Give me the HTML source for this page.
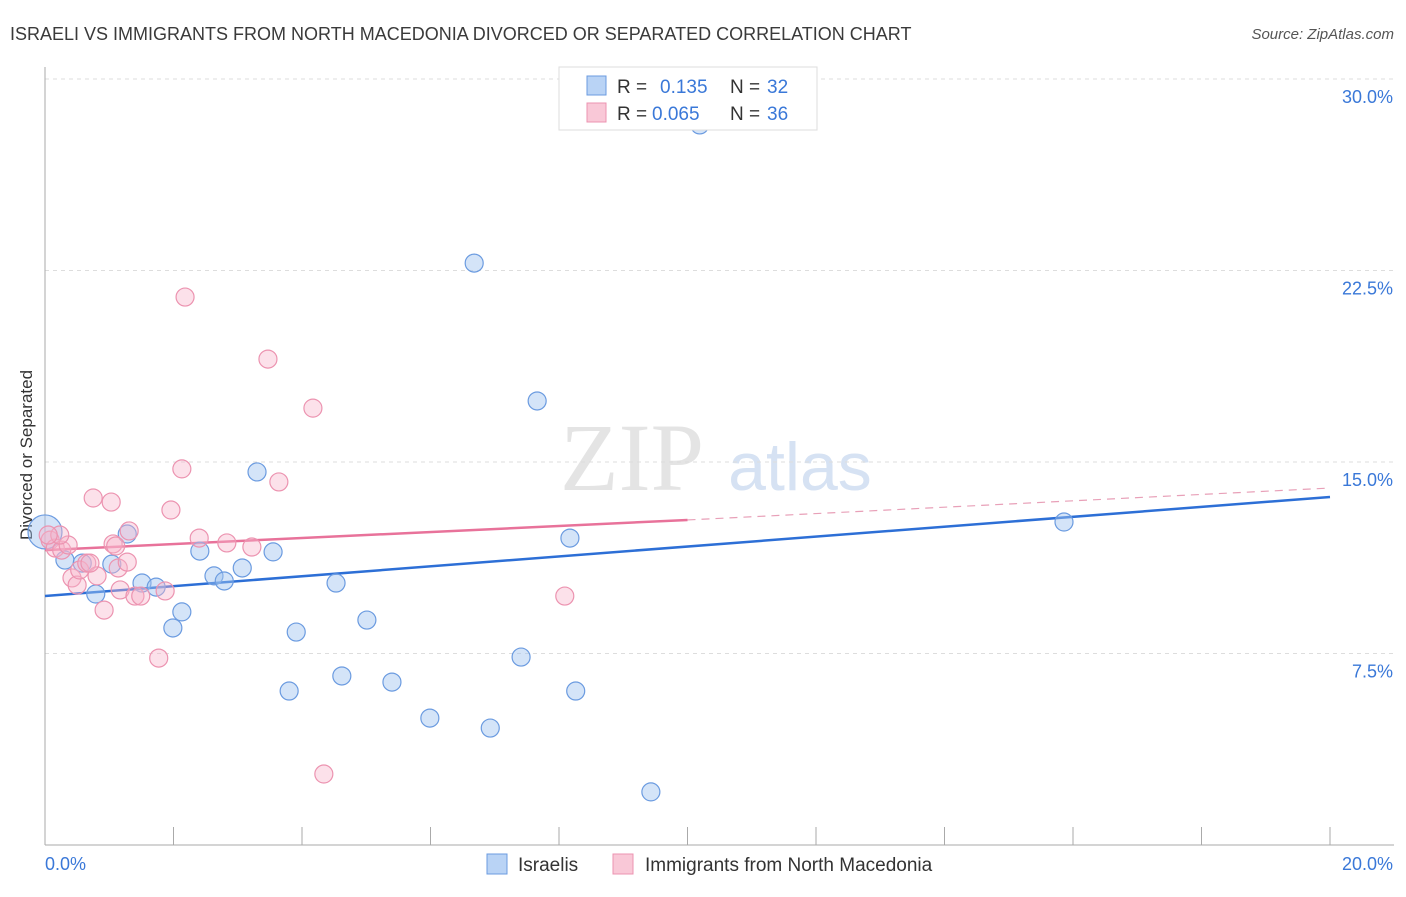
<!DOCTYPE html>
<html><head><meta charset="utf-8"><style>
body{margin:0;background:#fff;font-family:"Liberation Sans",sans-serif;}
svg text{font-family:"Liberation Sans",sans-serif;}
</style></head><body>
<svg id="c" width="1406" height="892">
<text x="10" y="40" font-size="18" fill="#3a3a3a">ISRAELI VS IMMIGRANTS FROM NORTH MACEDONIA DIVORCED OR SEPARATED CORRELATION CHART</text>
<text x="1394" y="39" font-size="15" fill="#555" text-anchor="end" font-style="italic">Source: ZipAtlas.com</text>
<text x="32" y="455" font-size="17" fill="#333" text-anchor="middle" transform="rotate(-90 32 455)">Divorced or Separated</text>
<text x="632" y="490" font-size="96" fill="#e4e4e4" font-family="Liberation Serif" text-anchor="middle" style="font-family:'Liberation Serif',serif">ZIP</text>
<text x="800" y="490" font-size="68" fill="#d6e2f3" text-anchor="middle">atlas</text>
<g id="grid"></g><g id="axes"></g><g id="trend"></g><g id="pts"></g>
<g>
<rect x="559" y="67" width="258" height="63" fill="#fff" stroke="#ddd"/>
<rect x="587" y="76" width="19" height="19" fill="#b9d3f5" stroke="#6b9be0"/>
<rect x="587" y="103" width="19" height="19" fill="#f9c8d7" stroke="#ec93b0"/>
<text x="617" y="93" font-size="19" fill="#333">R = </text><text x="660" y="93" font-size="19" fill="#3a78d8">0.135</text>
<text x="730" y="93" font-size="19" fill="#333">N = </text><text x="767" y="93" font-size="19" fill="#3a78d8">32</text>
<text x="617" y="120" font-size="19" fill="#333">R = </text><text x="652" y="120" font-size="19" fill="#3a78d8">0.065</text>
<text x="730" y="120" font-size="19" fill="#333">N = </text><text x="767" y="120" font-size="19" fill="#3a78d8">36</text>
</g>
<g>
<rect x="487" y="854" width="20" height="20" fill="#b9d3f5" stroke="#6b9be0"/>
<text x="518" y="871" font-size="19" fill="#333">Israelis</text>
<rect x="613" y="854" width="20" height="20" fill="#f9c8d7" stroke="#ec93b0"/>
<text x="645" y="871" font-size="19" fill="#333">Immigrants from North Macedonia</text>
</g>
</svg>
<script>
const yTicks=[7.5,15,22.5,30];
const yTickLabels=["7.5%","15.0%","22.5%","30.0%"];
const xTickLabels=["0.0%","20.0%"];
const blueX=[0,0.31,0.58,0.79,1.04,1.28,1.51,1.73,1.99,2.13,2.41,2.63,2.79,3.07,3.30,3.55,3.80,3.91,4.53,4.62,5.01,5.40,5.99,6.68,6.93,7.41,7.66,8.17,8.26,9.43,10.19,15.86];
const blueY=[12.26,11.16,11.04,9.83,11.00,12.18,10.26,10.10,8.50,9.13,11.51,10.54,10.34,10.85,14.61,11.48,6.03,8.34,10.26,6.62,8.81,6.38,4.97,22.79,4.58,7.36,17.39,12.02,6.03,2.08,28.20,12.65];
const pinkX=[0.08,0.16,0.26,0.36,0.42,0.50,0.54,0.65,0.75,0.81,0.92,1.03,1.06,1.14,1.17,1.28,1.31,1.40,1.49,1.77,1.87,1.96,2.13,2.18,2.40,2.83,3.22,3.47,3.64,4.17,4.34,8.09,0.70,0.23,0.05,1.10];
const pinkY=[11.94,11.63,11.55,11.75,10.46,10.18,10.77,11.04,13.59,10.54,9.20,13.43,11.79,10.85,9.99,11.08,12.30,9.75,9.75,7.32,9.95,13.12,14.73,21.46,12.02,11.83,11.67,19.03,14.22,17.11,2.78,9.75,11.04,12.14,12.14,11.71];
const blueTrend=[9.75,13.63];
const pinkTrend=[11.55,12.73,13.98];
const NS="http://www.w3.org/2000/svg";
const X0=45,X1=1330,Y0=845,Y1=79;
const sx=v=>X0+(v/20)*(X1-X0);
const sy=v=>Y0-(v/30)*(Y0-Y1);
function mk(t,a,p){const e=document.createElementNS(NS,t);for(const k in a)e.setAttribute(k,a[k]);document.getElementById(p).appendChild(e);return e;}
yTicks.forEach((t,i)=>{
 const l=mk('line',{x1:X0,x2:1394,y1:sy(t),y2:sy(t),stroke:'#ddd','stroke-dasharray':'4,4'},'grid');
 
 
 const tx=mk('text',{x:1393,y:sy(t)+24,'font-size':18,fill:'#3a78d8','text-anchor':'end'},'grid');tx.textContent=yTickLabels[i];
 
 
});
let a=mk('line',{x1:X0,x2:X0,y1:67,y2:Y0,stroke:'#aaa'},'axes');


a=mk('line',{x1:X0,x2:1394,y1:Y0,y2:Y0,stroke:'#aaa'},'axes');


for(let i=0;i<=10;i++){const t=mk('line',{x1:sx(i*2),x2:sx(i*2),y1:Y0,y2:Y0-18,stroke:'#aaa'},'axes');
 
 }
[[0,'start',45],[20,'end',1393]].forEach((d,i)=>{const t=mk('text',{x:d[2],y:870,'font-size':18,fill:'#3a78d8','text-anchor':d[1]},'axes');t.textContent=xTickLabels[i];
 
 });
let tl=mk('line',{x1:sx(0),y1:sy(blueTrend[0]),x2:sx(20),y2:sy(blueTrend[1]),stroke:'#2d6fd6','stroke-width':2.5},'trend');


tl=mk('line',{x1:sx(0),y1:sy(pinkTrend[0]),x2:sx(10),y2:sy(pinkTrend[1]),stroke:'#e8729a','stroke-width':2.5},'trend');


tl=mk('line',{x1:sx(10),y1:sy(pinkTrend[1]),x2:sx(20),y2:sy(pinkTrend[2]),stroke:'#e8a0b8','stroke-width':1.2,'stroke-dasharray':'8,6'},'trend');


blueX.forEach((x,i)=>{const c=mk('circle',{cx:sx(x),cy:sy(blueY[i]),r:i==0?17:9,fill:'rgba(160,195,240,0.45)',stroke:'#6b9be0','stroke-width':1.2},'pts');
 
 });
pinkX.forEach((x,i)=>{const c=mk('circle',{cx:sx(x),cy:sy(pinkY[i]),r:9,fill:'rgba(248,180,203,0.4)',stroke:'#ec93b0','stroke-width':1.2},'pts');
 
 });
</script>
</body></html>
